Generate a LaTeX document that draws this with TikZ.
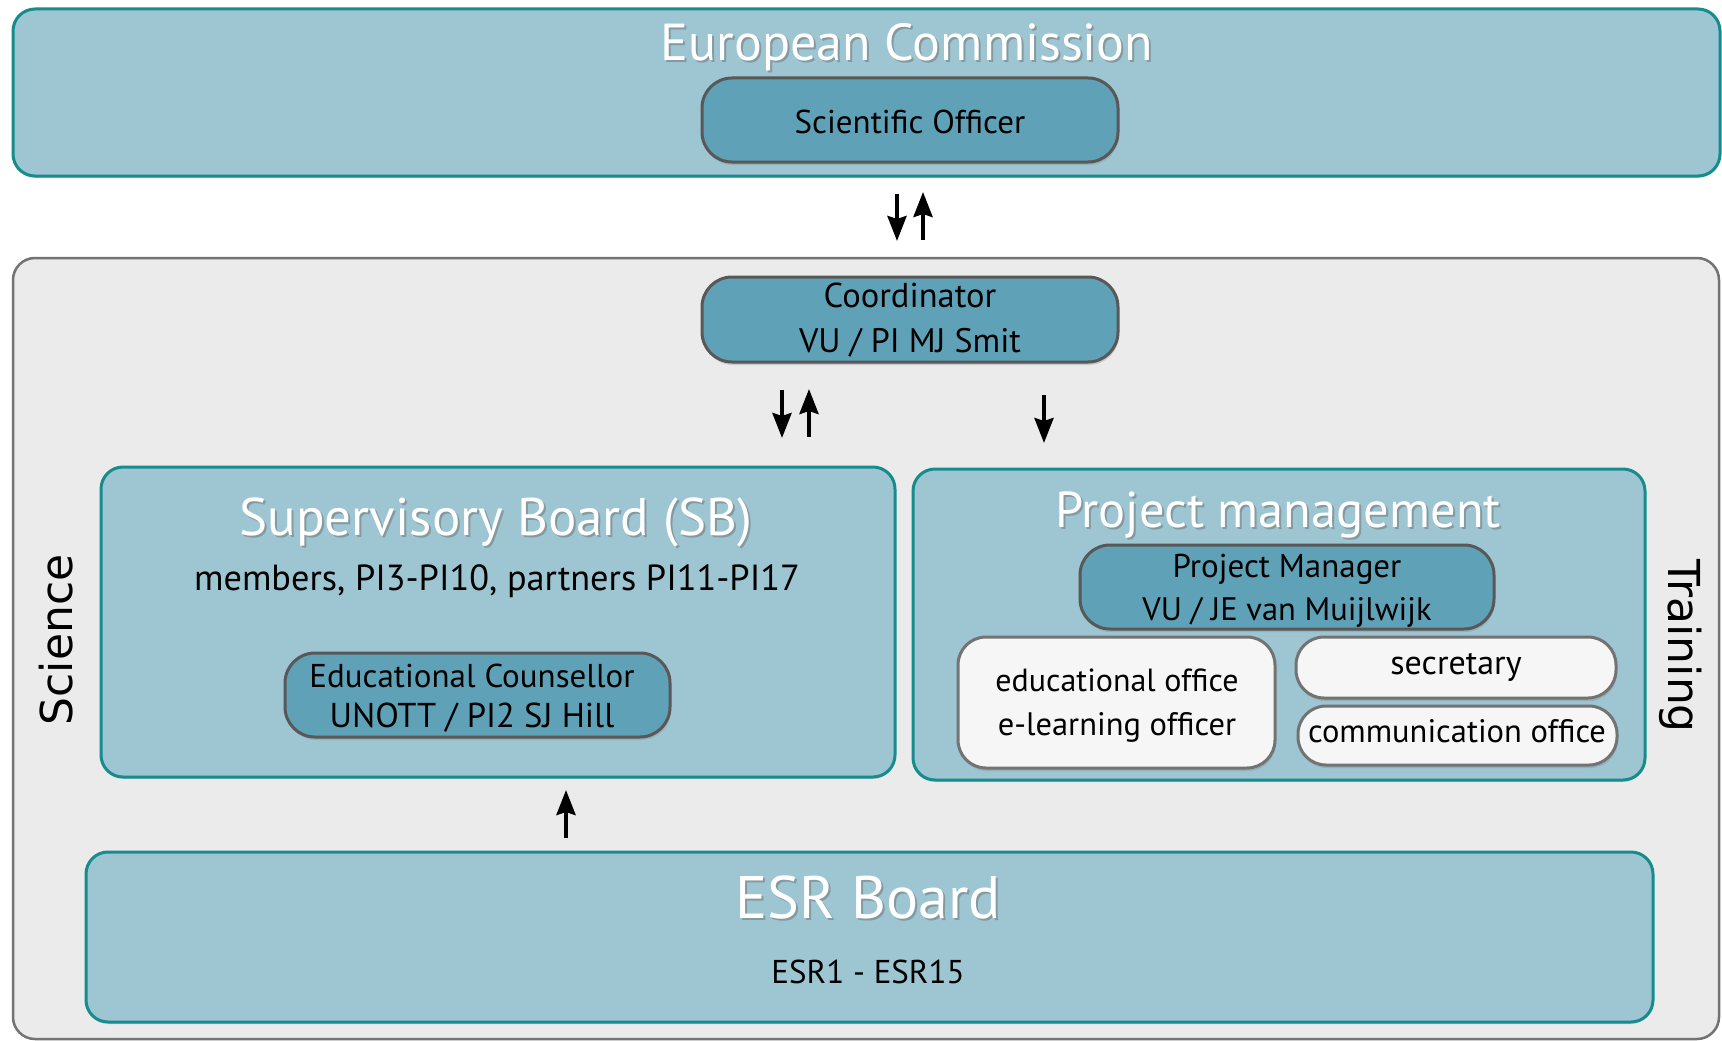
\documentclass[tikz,border=0pt]{standalone}
\usepackage{fontspec}
\setmainfont{PT Sans}
\newfontfamily\sidefont{DejaVu Sans}
\usetikzlibrary{arrows.meta,shadows,fit}
\definecolor{lightteal}{RGB}{157,197,210}
\definecolor{tealborder}{RGB}{22,140,140}
\definecolor{darkfill}{RGB}{95,162,184}
\definecolor{darkborder}{RGB}{88,88,88}
\definecolor{greybg}{RGB}{235,235,235}
\definecolor{greyborder}{RGB}{115,115,115}
\definecolor{whitebox}{RGB}{246,246,246}
\newcommand{\fsz}[1]{\fontsize{#1}{#1}\selectfont}
\begin{document}
\begin{tikzpicture}[x=1pt,y=-1pt,
  outerbox/.style={draw=tealborder, line width=3pt, fill=lightteal, rounded corners=22pt, inner sep=0pt,
    drop shadow={shadow xshift=0pt, shadow yshift=-2pt, opacity=0.25}},
  greybox/.style={draw=greyborder, line width=2.5pt, fill=greybg, rounded corners=22pt, inner sep=0pt},
  darkbox/.style={draw=darkborder, line width=3pt, fill=darkfill, rounded corners=30pt, inner sep=0pt,
    drop shadow={shadow xshift=1pt, shadow yshift=-3pt, opacity=0.3}},
  whitebx/.style={draw=greyborder, line width=3pt, fill=whitebox, rounded corners=28pt, inner sep=0pt,
    drop shadow={shadow xshift=1pt, shadow yshift=-3pt, opacity=0.3}},
  title/.style={text=white, anchor=base, inner sep=0pt},
  titleshadow/.style={text=black!60, opacity=0.45, anchor=base, inner sep=0pt},
  lbl/.style={font=\fsz{33}, anchor=base, inner sep=0pt},
  side/.style={font=\sidefont\fsz{44}, anchor=base, inner sep=0pt},
  arr/.style={line width=4pt, -{Stealth[width=19pt,length=25pt,inset=3pt]}}
]
\useasboundingbox (0,0) rectangle (1722,1041);
\fill[white] (0,0) rectangle (1722,1041);

% European Commission
\node[outerbox, fit={(13,9) (1720,176)}] (ec) {};
\node[titleshadow, font=\fsz{52}] (ectS) at (909,62.5) {European Commission};
\node[title, font=\fsz{52}] (ect) at (907,60) {European Commission};
\node[darkbox, fit={(702,78) (1118,162)}] (sci) {};
\node[lbl] (scit) at (910,133) {Scientific Officer};

% arrows EC <-> coordinator
\coordinate (a1s) at (897,194); \coordinate (a1e) at (897,241);
\coordinate (a2s) at (923,240); \coordinate (a2e) at (923,192);
\draw[arr] (a1s) -- (a1e);
\draw[arr] (a2s) -- (a2e);

% big grey box
\node[greybox, fit={(13,258) (1719,1039)}] (grey) {};

% Coordinator
\node[darkbox, fit={(702,277) (1118,362)}] (coord) {};
\node[lbl, font=\fsz{34.5}] (coordt1) at (910,307) {Coordinator};
\node[lbl, font=\fsz{34}] (coordt2) at (910,352) {VU / PI MJ Smit};

% arrows below coordinator
\coordinate (b1s) at (782,390); \coordinate (b1e) at (782,438);
\coordinate (b2s) at (809,437); \coordinate (b2e) at (809,389);
\coordinate (b3s) at (1044,395); \coordinate (b3e) at (1044,443);
\draw[arr] (b1s) -- (b1e);
\draw[arr] (b2s) -- (b2e);
\draw[arr] (b3s) -- (b3e);

% Supervisory Board
\node[outerbox, fit={(101,467) (895,777)}] (sb) {};
\node[titleshadow, font=\fsz{53}] (sbtS) at (498,537.5) {Supervisory Board (SB)};
\node[title, font=\fsz{53}] (sbt) at (496,535) {Supervisory Board (SB)};
\node[lbl, font=\fsz{36.3}] (sbm) at (497,590) {members, PI3-PI10, partners PI11-PI17};
\node[darkbox, fit={(285,653) (670,737)}] (edc) {};
\node[lbl] (edct1) at (472,687) {Educational Counsellor};
\node[lbl, font=\fsz{34.5}] (edct2) at (472,727) {UNOTT / PI2 SJ Hill};

% Project management
\node[outerbox, fit={(913,469) (1645,780)}] (pm) {};
\node[titleshadow, font=\fsz{50.5}] (pmtS) at (1280,529.5) {Project management};
\node[title, font=\fsz{50.5}] (pmt) at (1278,527) {Project management};
\node[darkbox, fit={(1080,545) (1494,629)}] (pmgr) {};
\node[lbl] (pmgrt1) at (1287,577) {Project Manager};
\node[lbl, font=\fsz{32.5}] (pmgrt2) at (1287,620) {VU / JE van Muijlwijk};
\node[whitebx, fit={(958,637) (1275,768)}] (edo) {};
\node[lbl, font=\fsz{32}] (edot1) at (1117,691) {educational office};
\node[lbl, font=\fsz{32.5}] (edot2) at (1117,735) {e-learning officer};
\node[whitebx, fit={(1296,637) (1616,698)}] (sec) {};
\node[lbl, font=\fsz{34}] (sect) at (1456,674) {secretary};
\node[whitebx, fit={(1298,706) (1617,765)}] (com) {};
\node[lbl, font=\fsz{32.5}] (comt) at (1457,742) {communication office};

% side labels
\node[side, rotate=90] (science) at (72,640) {Science};
\node[side, rotate=-90] (training) at (1668,646) {Training};

% arrow ESR -> SB
\coordinate (c1s) at (566,838); \coordinate (c1e) at (566,790);
\draw[arr] (c1s) -- (c1e);

% ESR Board
\node[outerbox, fit={(86,852) (1653,1022)}] (esr) {};
\node[titleshadow, font=\fsz{60}] (esrtS) at (870,920.5) {ESR Board};
\node[title, font=\fsz{60}] (esrt) at (868,918) {ESR Board};
\node[lbl] (esrm) at (868,983) {ESR1 - ESR15};
\end{tikzpicture}
\end{document}
